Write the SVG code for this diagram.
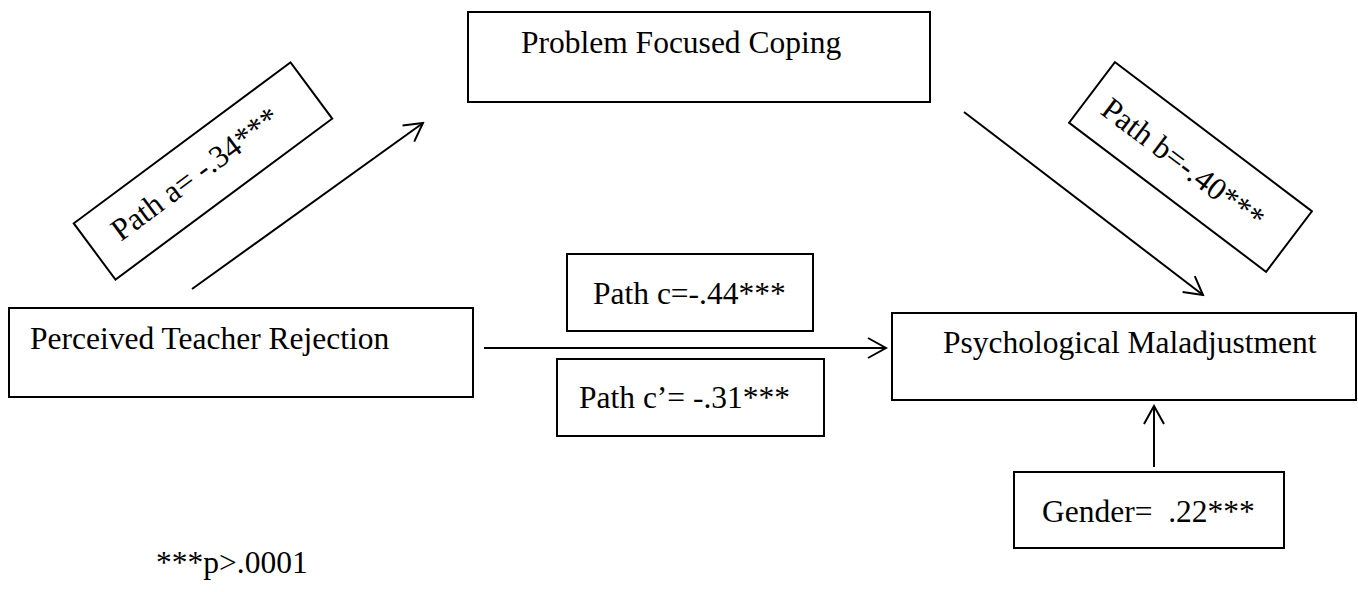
<svg xmlns="http://www.w3.org/2000/svg" width="1358" height="592" viewBox="0 0 1358 592">
<style>
.box{fill:#fff;stroke:#000;stroke-width:2}
.lbl{font-family:"Liberation Serif","Times New Roman",serif;font-size:31.5px;fill:#000;white-space:pre}
.conn{stroke:#000;stroke-width:2;fill:none;marker-end:url(#arr)}
</style>
<defs>
<marker id="arr" markerUnits="userSpaceOnUse" viewBox="0 0 22 24" refX="20" refY="12" markerWidth="22" markerHeight="24" orient="auto">
<path d="M2,2 L20,12 L2,22" fill="none" stroke="#000" stroke-width="2"/>
</marker>
</defs>
<rect width="1358" height="592" fill="#fff"/>
<g id="connectors">
<line class="conn" x1="192" y1="289" x2="423" y2="123"/>
<line class="conn" x1="964" y1="112" x2="1203" y2="295"/>
<line class="conn" x1="484" y1="348" x2="886" y2="348"/>
<line class="conn" x1="1154" y1="467" x2="1154" y2="406"/>
</g>
<g id="node-pfc">
<rect class="box" x="468" y="12" width="462" height="90"/>
<text class="lbl" x="521" y="53">Problem Focused Coping</text>
</g>
<g id="node-ptr">
<rect class="box" x="9" y="308" width="464" height="89"/>
<text class="lbl" x="30" y="349">Perceived Teacher Rejection</text>
</g>
<g id="node-pm">
<rect class="box" x="892" y="313" width="464" height="87"/>
<text class="lbl" x="943" y="353">Psychological Maladjustment</text>
</g>
<g id="label-a" transform="translate(203,171) rotate(-36.6)">
<rect class="box" x="-135" y="-35" width="270" height="70"/>
<text class="lbl" x="-8" y="8" text-anchor="middle">Path a= -.34***</text>
</g>
<g id="label-b" transform="translate(1190.5,167) rotate(37.1)">
<rect class="box" x="-123.5" y="-38" width="247" height="76"/>
<text class="lbl" x="-8" y="12" text-anchor="middle">Path b=-.40***</text>
</g>
<g id="label-c">
<rect class="box" x="567" y="254" width="246" height="77"/>
<text class="lbl" x="593" y="304">Path c=-.44***</text>
</g>
<g id="label-c-prime">
<rect class="box" x="557" y="359" width="267" height="77"/>
<text class="lbl" x="579" y="408">Path c’= -.31***</text>
</g>
<g id="node-gender">
<rect class="box" x="1014" y="472" width="270" height="76"/>
<text class="lbl" x="1042" y="522">Gender=  .22***</text>
</g>
<text id="footnote" class="lbl" x="156" y="573">***p&gt;.0001</text>
</svg>
